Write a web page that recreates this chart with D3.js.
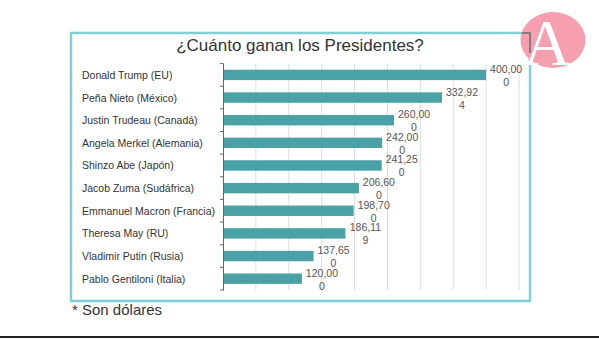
<!DOCTYPE html>
<html>
<head>
<meta charset="utf-8">
<script src="https://cdn.jsdelivr.net/npm/d3@7"></script>
<style>
  body { margin: 0; background: #fff; }
  svg { display: block; font-family: "Liberation Sans", Arial, sans-serif; }
</style>
</head>
<body>
<svg id="chart"></svg>
<script>
var presidents = [
  "Donald Trump (EU)",
  "Peña Nieto (México)",
  "Justin Trudeau (Canadá)",
  "Angela Merkel (Alemania)",
  "Shinzo Abe (Japón)",
  "Jacob Zuma (Sudáfrica)",
  "Emmanuel Macron (Francia)",
  "Theresa May (RU)",
  "Vladimir Putin (Rusia)",
  "Pablo Gentiloni (Italia)"
];
var salaries = [400000, 332924, 260000, 242000, 241250, 206600, 198700, 186119, 137650, 120000];
var gridTicks = [50000, 100000, 150000, 200000, 250000, 300000, 350000, 400000, 450000];

var width = 599, height = 339;

var svg = d3.select("#chart")
  .attr("width", width)
  .attr("height", height);

svg.append("rect")
  .attr("width", width)
  .attr("height", height)
  .attr("fill", "#fff");

// teal frame round the chart
svg.append("rect")
  .attr("x", 71)
  .attr("y", 33)
  .attr("width", 459)
  .attr("height", 268)
  .attr("fill", "none")
  .attr("stroke", "#80cfd6")
  .attr("stroke-width", 2.5);

svg.append("text")
  .attr("x", 300)
  .attr("y", 51)
  .attr("text-anchor", "middle")
  .attr("font-size", "17px")
  .attr("fill", "#333")
  .text("¿Cuánto ganan los Presidentes?");

var x = d3.scaleLinear().domain([0, 450000]).range([223, 519]);

var y = d3.scaleBand()
  .domain(presidents)
  .range([63.6, 290])
  .paddingInner(0.54)
  .paddingOuter(0.27);

var step = y.step();
var data = presidents.map(function(d, i) { return { name: d, value: salaries[i] }; });

// grid
svg.append("g")
  .selectAll("line")
  .data(gridTicks)
  .enter().append("line")
  .attr("x1", function(d) { return x(d); })
  .attr("x2", function(d) { return x(d); })
  .attr("y1", 63.6)
  .attr("y2", 290)
  .attr("stroke", "#dedede")
  .attr("stroke-width", 1);

// bars
svg.append("g")
  .selectAll("rect")
  .data(data)
  .enter().append("rect")
  .attr("x", x(0))
  .attr("y", function(d) { return y(d.name); })
  .attr("width", function(d) { return x(d.value) - x(0); })
  .attr("height", y.bandwidth())
  .attr("fill", "#4aa2a7");

// category axis: line + ticks at band edges
var axis = svg.append("g").attr("stroke", "#666").attr("stroke-width", 1);
axis.append("line")
  .attr("x1", x(0) + 0.5).attr("x2", x(0) + 0.5)
  .attr("y1", 63.6).attr("y2", 290.5);
var edges = d3.range(presidents.length + 1).map(function(i) { return 63.6 + i * step; });
axis.selectAll("line.tick")
  .data(edges)
  .enter().append("line")
  .attr("class", "tick")
  .attr("x1", x(0) - 3).attr("x2", x(0) + 0.5)
  .attr("y1", function(d) { return d; })
  .attr("y2", function(d) { return d; });

svg.append("g")
  .selectAll("text")
  .data(presidents)
  .enter().append("text")
  .attr("x", 82)
  .attr("y", function(d) { return y(d) + y.bandwidth() / 2 + 4; })
  .attr("font-size", "10.5px")
  .attr("fill", "#333")
  .text(function(d) { return d; });

// value labels, wrapped after six characters like the original
var fmt = d3.format(",");
var vl = svg.append("g")
  .selectAll("text")
  .data(data)
  .enter().append("text")
  .attr("text-anchor", "middle")
  .attr("font-size", "10.5px")
  .attr("fill", "#555");
vl.append("tspan")
  .attr("x", function(d) { return x(d.value) + 20; })
  .attr("y", function(d) { return y(d.name) + y.bandwidth() / 2 - 2; })
  .text(function(d) { return fmt(d.value).slice(0, 6); });
vl.append("tspan")
  .attr("x", function(d) { return x(d.value) + 20; })
  .attr("y", function(d) { return y(d.name) + y.bandwidth() / 2 + 11; })
  .text(function(d) { return fmt(d.value).slice(6); });

svg.append("text")
  .attr("x", 72)
  .attr("y", 315)
  .attr("font-size", "15px")
  .attr("fill", "#333")
  .text("* Son dólares");

svg.append("line")
  .attr("x1", 0).attr("x2", width)
  .attr("y1", 337).attr("y2", 337)
  .attr("stroke", "#222")
  .attr("stroke-width", 2);

// logo
svg.append("ellipse")
  .attr("cx", 553)
  .attr("cy", 40)
  .attr("rx", 32.5)
  .attr("ry", 28)
  .attr("fill", "#f69fae");
svg.append("path")
  .attr("d", "M522,33H530V53")
  .attr("fill", "none")
  .attr("stroke", "#6b6b70")
  .attr("stroke-width", 1.5);
svg.append("text")
  .attr("x", 547)
  .attr("y", 65)
  .attr("text-anchor", "middle")
  .attr("font-family", "'Liberation Serif', 'DejaVu Serif', serif")
  .attr("font-size", "66px")
  .attr("fill", "#fff")
  .text("A");
</script>
</body>
</html>
